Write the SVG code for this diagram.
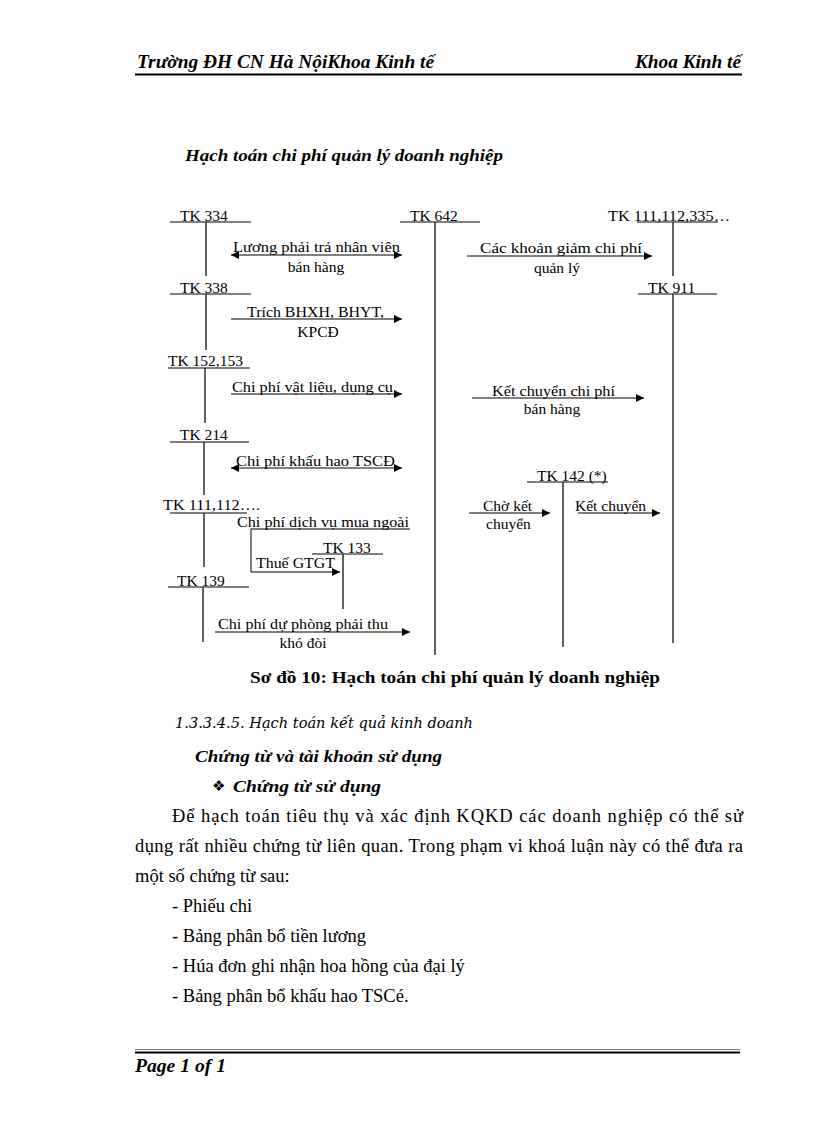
<svg xmlns="http://www.w3.org/2000/svg" width="816" height="1123" viewBox="0 0 816 1123">
<style>
  .t{font-family:"Liberation Serif","Times New Roman",serif;font-size:15.5px;fill:#000}
  .c{text-anchor:middle}
  .ln{stroke:#000;stroke-width:1;fill:none}
  .v{stroke:#222;stroke-width:1.4;fill:none}
  .ar{stroke:#000;stroke-width:1;fill:none;marker-end:url(#ah)}
  .ar2{stroke:#000;stroke-width:1;fill:none;marker-end:url(#ah);marker-start:url(#ahs)}
  .hd{font-family:"Liberation Serif","Times New Roman",serif;font-weight:bold;font-style:italic;fill:#000}
  .body{font-family:"Liberation Serif","Times New Roman",serif;font-size:18.5px;fill:#000}
</style>
<defs>
  <marker id="ah" viewBox="0 0 10 10" refX="10" refY="5" markerUnits="userSpaceOnUse" markerWidth="9" markerHeight="8" orient="auto"><path d="M0,0 L10,5 L0,10 z" fill="#000"/></marker>
  <marker id="ahs" viewBox="0 0 10 10" refX="0" refY="5" markerUnits="userSpaceOnUse" markerWidth="9" markerHeight="8" orient="auto"><path d="M10,0 L0,5 L10,10 z" fill="#000"/></marker>
</defs>
<rect width="816" height="1123" fill="#fff"/>

<g id="header">
  <text class="hd" x="137" y="68" font-size="18" textLength="297" lengthAdjust="spacingAndGlyphs">Trường ĐH CN Hà NộiKhoa Kinh tế</text>
  <text class="hd" x="635" y="68" font-size="18" textLength="106" lengthAdjust="spacingAndGlyphs">Khoa Kinh tế</text>
  <line x1="135" y1="74.5" x2="742" y2="74.5" stroke="#000" stroke-width="2"/>
</g>

<text class="hd" x="185" y="161" font-size="16.5" textLength="318" lengthAdjust="spacingAndGlyphs">Hạch toán chi phí quản lý doanh nghiệp</text>

<g id="tk334">
  <text class="t" x="180" y="221">TK 334</text>
  <line class="ln" x1="170" y1="222" x2="251" y2="222"/>
  <line class="v" x1="206" y1="222" x2="206" y2="276"/>
</g>
<g id="tk642">
  <text class="t" x="410" y="221">TK 642</text>
  <line class="ln" x1="400" y1="222" x2="480" y2="222"/>
  <line class="v" x1="435" y1="222" x2="435" y2="655"/>
</g>
<g id="tk111_335">
  <text class="t" x="608" y="221" textLength="122" lengthAdjust="spacingAndGlyphs">TK 111,112,335…</text>
  <line class="ln" x1="637" y1="222" x2="718" y2="222"/>
  <line class="v" x1="673" y1="222" x2="673" y2="276"/>
</g>
<g id="tk338">
  <text class="t" x="180" y="293">TK 338</text>
  <line class="ln" x1="170" y1="294" x2="251" y2="294"/>
  <line class="v" x1="206" y1="294" x2="206" y2="350"/>
</g>
<g id="tk911">
  <text class="t" x="648" y="293">TK 911</text>
  <line class="ln" x1="638" y1="294" x2="717" y2="294"/>
  <line class="v" x1="673" y1="294" x2="673" y2="643"/>
</g>
<g id="tk152">
  <text class="t" x="168" y="366">TK 152,153</text>
  <line class="ln" x1="168" y1="368" x2="250" y2="368"/>
  <line class="v" x1="205" y1="368" x2="205" y2="423"/>
</g>
<g id="tk214">
  <text class="t" x="180" y="440">TK 214</text>
  <line class="ln" x1="170" y1="442" x2="249" y2="442"/>
  <line class="v" x1="204" y1="442" x2="204" y2="495"/>
</g>
<g id="tk142">
  <text class="t" x="537" y="481">TK 142 (*)</text>
  <line class="ln" x1="527" y1="482" x2="608" y2="482"/>
  <line class="v" x1="563" y1="482" x2="563" y2="647"/>
</g>
<g id="tk111_112">
  <text class="t" x="163" y="510" textLength="97" lengthAdjust="spacingAndGlyphs">TK 111,112….</text>
  <line class="ln" x1="170" y1="513" x2="247" y2="513"/>
  <line class="v" x1="204" y1="513" x2="204" y2="567"/>
</g>
<g id="tk133">
  <text class="t" x="323" y="553">TK 133</text>
  <line class="ln" x1="312" y1="554" x2="383" y2="554"/>
  <line class="v" x1="343" y1="554" x2="343" y2="609"/>
</g>
<g id="tk139">
  <text class="t" x="177" y="586">TK 139</text>
  <line class="ln" x1="168" y1="587" x2="249" y2="587"/>
  <line class="v" x1="203" y1="587" x2="203" y2="642"/>
</g>

<g id="connectors">
  <line class="ar2" x1="231" y1="255" x2="402" y2="255"/>
  <line class="ar" x1="467" y1="256" x2="652" y2="256"/>
  <line class="ar" x1="231" y1="319" x2="402" y2="319"/>
  <line class="ar" x1="231" y1="394" x2="402" y2="394"/>
  <line class="ar" x1="472" y1="398" x2="644" y2="398"/>
  <line class="ar2" x1="231" y1="468" x2="402" y2="468"/>
  <line class="ar" x1="469" y1="513" x2="550" y2="513"/>
  <line class="ar" x1="578" y1="513" x2="660" y2="513"/>
  <polyline class="ln" points="410,529 251,529 251,572"/>
  <line class="ar" x1="251" y1="572" x2="340" y2="572"/>
  <line class="ar" x1="215" y1="632" x2="410" y2="632"/>
</g>

<g id="labels">
  <text class="t" x="233" y="252" textLength="167" lengthAdjust="spacingAndGlyphs">Lương phải trả nhân viên</text>
  <text class="t c" x="316" y="272">bán hàng</text>
  <text class="t" x="480" y="253" textLength="162" lengthAdjust="spacingAndGlyphs">Các khoản giảm  chi  phí</text>
  <text class="t c" x="557" y="273">quản lý</text>
  <text class="t" x="247" y="317" textLength="137" lengthAdjust="spacingAndGlyphs">Trích BHXH, BHYT,</text>
  <text class="t c" x="318" y="337">KPCĐ</text>
  <text class="t" x="232" y="392" textLength="161" lengthAdjust="spacingAndGlyphs">Chi phí vật liệu,  dụng cụ</text>
  <text class="t" x="492" y="396" textLength="123" lengthAdjust="spacingAndGlyphs">Kết chuyển  chi  phí</text>
  <text class="t c" x="552" y="414">bán hàng</text>
  <text class="t" x="236" y="466" textLength="159" lengthAdjust="spacingAndGlyphs">Chi phí khấu hao TSCĐ</text>
  <text class="t" x="483" y="511">Chờ kết</text>
  <text class="t" x="486" y="529">chuyển</text>
  <text class="t" x="575" y="511">Kết chuyển</text>
  <text class="t" x="237" y="527" textLength="172" lengthAdjust="spacingAndGlyphs">Chi phí dịch vụ mua ngoài</text>
  <text class="t" x="256" y="568" textLength="79" lengthAdjust="spacingAndGlyphs">Thuế  GTGT</text>
  <text class="t" x="218" y="629" textLength="170" lengthAdjust="spacingAndGlyphs">Chi phí dự phòng phải thu</text>
  <text class="t c" x="303" y="648">khó đòi</text>
</g>

<text x="250" y="683" font-family="Liberation Serif, serif" font-weight="bold" font-size="17" textLength="410" lengthAdjust="spacingAndGlyphs">Sơ đồ 10: Hạch toán chi phí  quản lý doanh nghiệp</text>

<text x="175" y="728" font-family="DejaVu Serif, serif" font-style="italic" font-size="14.5" textLength="298" lengthAdjust="spacingAndGlyphs">1.3.3.4.5. Hạch toán kết quả kinh doanh</text>
<text class="hd" x="195" y="762" font-size="16.5" textLength="247" lengthAdjust="spacingAndGlyphs">Chứng từ và tài khoản sử dụng</text>
<text x="212" y="791" font-family="DejaVu Sans, sans-serif" font-size="15" fill="#000">❖</text>
<text class="hd" x="233" y="792" font-size="16.5" textLength="148" lengthAdjust="spacingAndGlyphs">Chứng từ sử dụng</text>

<g class="body">
  <text x="172" y="822" textLength="571" lengthAdjust="spacing">Để hạch toán tiêu  thụ và xác  định  KQKD  các doanh nghiệp  có thể  sử</text>
  <text x="135" y="852" textLength="608" lengthAdjust="spacing">dụng rất nhiều  chứng từ liên  quan. Trong phạm vi khoá luận này có thể đưa ra</text>
  <text x="135" y="882">một số chứng từ sau:</text>
  <text x="172" y="912">- Phiếu  chi</text>
  <text x="172" y="942">- Bảng phân bổ tiền lương</text>
  <text x="172" y="972">- Húa  đơn ghi nhận hoa hồng của đại lý</text>
  <text x="172" y="1002">- Bảng phân bổ khấu hao TSCé.</text>
</g>

<g id="footer">
  <line x1="135" y1="1049.5" x2="740" y2="1049.5" stroke="#777" stroke-width="1"/>
  <line x1="135" y1="1052.5" x2="740" y2="1052.5" stroke="#000" stroke-width="2"/>
  <text class="hd" x="135" y="1072" font-size="19" textLength="91" lengthAdjust="spacingAndGlyphs">Page 1 of 1</text>
</g>
</svg>
